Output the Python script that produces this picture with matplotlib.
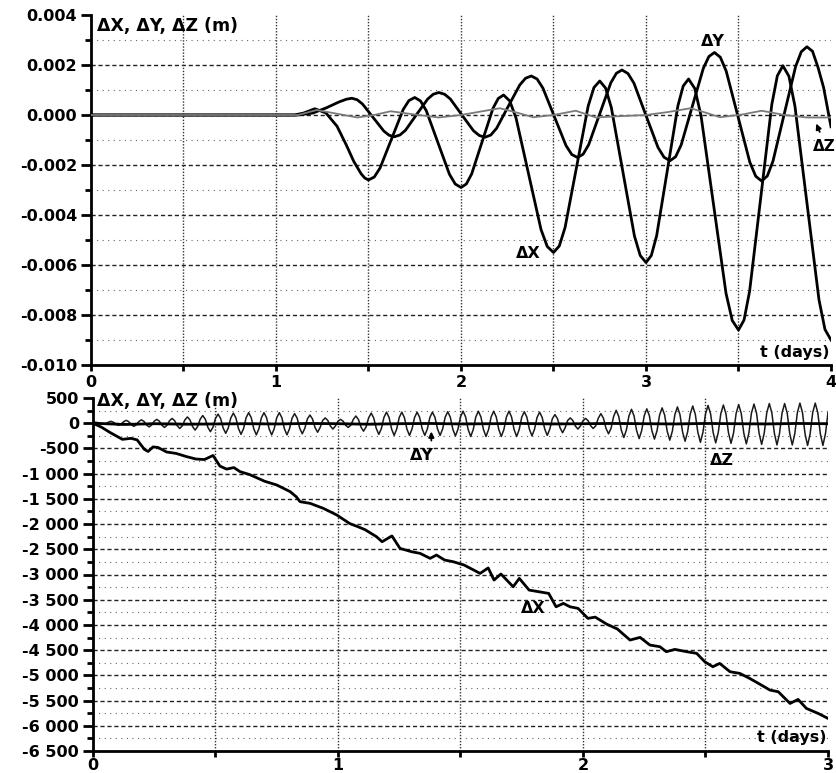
import numpy as np
import matplotlib
matplotlib.use("Agg")
import matplotlib.pyplot as plt
from matplotlib.ticker import FixedLocator

plt.rcParams['font.family'] = ['DejaVu Sans']
plt.rcParams['font.weight'] = 'bold'
plt.rcParams['axes.unicode_minus'] = False

# ---------------- top panel data (values in mm, converted to m) ----------------
t_dx_top = [0.0, 1.0, 1.1, 1.15, 1.21, 1.27, 1.33, 1.38, 1.42, 1.46, 1.48, 1.5,
            1.53125, 1.5625, 1.625, 1.6875, 1.71875, 1.75,
            1.78125, 1.8125, 1.875, 1.9375, 1.96875, 2.0,
            2.02875, 2.0575, 2.115, 2.1725, 2.20125, 2.23,
            2.26375, 2.2975, 2.365, 2.4325, 2.46625, 2.5,
            2.53125, 2.5625, 2.625, 2.6875, 2.71875, 2.75,
            2.78125, 2.8125, 2.875, 2.9375, 2.96875, 3.0,
            3.02875, 3.0575, 3.115, 3.1725, 3.20125, 3.23,
            3.26375, 3.2975, 3.365, 3.4325, 3.46625, 3.5,
            3.53, 3.56, 3.62, 3.68, 3.71, 3.74,
            3.7725, 3.805, 3.87, 3.935, 3.9675, 4.0]
dx_top_mm = [0, 0, 0, 0.08, 0.25, 0.08, -0.45, -1.2, -1.85, -2.35, -2.52, -2.6,
             -2.48, -2.12, -0.95, 0.22, 0.58, 0.7,
             0.56, 0.17, -1.1, -2.37, -2.76, -2.9,
             -2.76, -2.36, -1.05, 0.26, 0.66, 0.8,
             0.56, -0.12, -2.35, -4.58, -5.26, -5.5,
             -5.24, -4.5, -2.07, 0.36, 1.1, 1.36,
             1.08, 0.3, -2.27, -4.84, -5.62, -5.9,
             -5.62, -4.83, -2.23, 0.37, 1.16, 1.44,
             1.06, -0.03, -3.58, -7.13, -8.22, -8.6,
             -8.2, -7.05, -3.32, 0.42, 1.57, 1.97,
             1.55, 0.36, -3.52, -7.39, -8.58, -9.0]

t_dy_top = [0.0, 1.0, 1.12, 1.2, 1.27, 1.34, 1.38, 1.41,
            1.43875, 1.4675, 1.525, 1.5825, 1.61125, 1.64,
            1.67, 1.70, 1.76, 1.82, 1.85, 1.88,
            1.91125, 1.9425, 2.005, 2.0675, 2.09875, 2.13,
            2.16125, 2.1925, 2.255, 2.3175, 2.34875, 2.38,
            2.41125, 2.4425, 2.505, 2.5675, 2.59875, 2.63,
            2.66, 2.69, 2.75, 2.81, 2.84, 2.87,
            2.9025, 2.935, 3.0, 3.065, 3.0975, 3.13,
            3.16, 3.19, 3.25, 3.31, 3.34, 3.37,
            3.40188, 3.43375, 3.4975, 3.56125, 3.59313, 3.625,
            3.65563, 3.68625, 3.7475, 3.80875, 3.83938, 3.87,
            3.90, 3.93, 3.96, 4.0]
dy_top_mm = [0, 0, 0, 0.08, 0.28, 0.52, 0.63, 0.67,
             0.61, 0.44, -0.1, -0.64, -0.81, -0.87,
             -0.8, -0.61, 0.02, 0.64, 0.83, 0.9,
             0.83, 0.64, 0.0, -0.63, -0.82, -0.89,
             -0.8, -0.53, 0.34, 1.2, 1.47, 1.56,
             1.44, 1.08, -0.07, -1.22, -1.58, -1.7,
             -1.57, -1.19, 0.05, 1.29, 1.67, 1.8,
             1.66, 1.27, -0.02, -1.3, -1.69, -1.83,
             -1.67, -1.2, 0.34, 1.87, 2.34, 2.5,
             2.31, 1.75, -0.07, -1.89, -2.45, -2.64,
             -2.44, -1.85, 0.05, 1.94, 2.53, 2.73,
             2.55, 1.9, 1.1, -0.47]

t_dz_top = [0.0, 1.0, 1.12, 1.22, 1.33, 1.44, 1.53, 1.62, 1.75, 1.88,
            2.0, 2.1, 2.21, 2.3, 2.39, 2.5, 2.62, 2.73, 2.85, 3.0,
            3.12, 3.24, 3.32, 3.40, 3.52, 3.625, 3.75, 3.87, 4.0]
dz_top_mm = [0, 0, 0, 0.2, 0.05, -0.1, 0.0, 0.15, 0.02, -0.1,
             0.0, 0.13, 0.27, 0.1, -0.09, 0.0, 0.17, -0.1, -0.05, 0.0,
             0.12, 0.27, 0.1, -0.09, 0.02, 0.17, 0.0, -0.1, -0.1]

top_yticks = [-0.010, -0.008, -0.006, -0.004, -0.002, 0.000, 0.002, 0.004]
top_xticks = [0, 1, 2, 3, 4]

# ---------------- bottom panel data (m) ----------------
t_dx_bot = [0.0, 0.035, 0.07, 0.12, 0.155, 0.18, 0.21, 0.225, 0.245, 0.265,
            0.3, 0.34, 0.38, 0.42, 0.455, 0.49, 0.518, 0.545, 0.575, 0.6,
            0.64, 0.7, 0.75, 0.805, 0.83, 0.845, 0.886, 0.94, 0.995, 1.048,
            1.08, 1.11, 1.157, 1.18, 1.22, 1.253, 1.3, 1.335, 1.376, 1.402,
            1.435, 1.47, 1.515, 1.58, 1.613, 1.637, 1.665, 1.715, 1.74, 1.78,
            1.86, 1.89, 1.92, 1.947, 1.98, 2.02, 2.05, 2.097, 2.14, 2.192,
            2.233, 2.273, 2.314, 2.34, 2.375, 2.423, 2.464, 2.497, 2.53, 2.558,
            2.6, 2.64, 2.68, 2.72, 2.763, 2.797, 2.845, 2.878, 2.912, 2.96, 3.0]
dx_bot = [0, -80, -185, -320, -300, -330, -520, -560, -470, -480,
          -570, -600, -660, -710, -720, -640, -850, -910, -880, -960,
          -1020, -1150, -1225, -1358, -1460, -1556, -1589, -1688, -1820, -1990,
          -2050, -2110, -2250, -2350, -2235, -2482, -2548, -2581, -2680, -2614,
          -2713, -2746, -2813, -2978, -2870, -3110, -2990, -3243, -3077, -3309,
          -3375, -3640, -3573, -3640, -3672, -3870, -3845, -3985, -4080, -4300,
          -4247, -4399, -4432, -4531, -4485, -4531, -4564, -4730, -4829, -4763,
          -4928, -4961, -5060, -5170, -5292, -5325, -5557, -5477, -5656, -5755, -5854]

t_dy_bot = np.linspace(0, 3, 25)
dy_bot = [0, -25, -10, -20, -15, -10, -15, -5, -10, -20, -10, -5, -15,
          -10, -5, -15, -10, -5, -10, -15, -5, -10, -15, -5, -10]

t_dz_bot = np.linspace(0, 3, 289)   # 15-minute samples
dz_bot = [0, 19, 10, -10, -21, -10,
          20, 38, 20, -20, -42, -20,
          30, 57, 30, -30, -63, -30,
          35, 67, 35, -35, -74, -35,
          40, 76, 40, -40, -84, -40,
          50, 95, 50, -50, -105, -50,
          65, 124, 65, -65, -137, -65,
          80, 152, 80, -80, -168, -80,
          95, 181, 95, -95, -200, -95,
          105, 200, 105, -105, -221, -105,
          110, 209, 110, -110, -231, -110,
          110, 209, 110, -110, -231, -110,
          110, 209, 110, -110, -231, -110,
          100, 190, 100, -100, -210, -100,
          85, 162, 85, -85, -179, -85,
          55, 105, 55, -55, -116, -55,
          40, 76, 40, -40, -84, -40,
          75, 143, 75, -75, -158, -75,
          105, 200, 105, -105, -221, -105,
          115, 219, 115, -115, -242, -115,
          115, 219, 115, -115, -242, -115,
          115, 219, 115, -115, -242, -115,
          115, 219, 115, -115, -242, -115,
          120, 228, 120, -120, -252, -120,
          125, 238, 125, -125, -263, -125,
          125, 238, 125, -125, -263, -125,
          125, 238, 125, -125, -263, -125,
          125, 238, 125, -125, -263, -125,
          120, 228, 120, -120, -252, -120,
          115, 219, 115, -115, -242, -115,
          90, 171, 90, -90, -189, -90,
          55, 105, 55, -55, -116, -55,
          50, 95, 50, -50, -105, -50,
          100, 190, 100, -100, -210, -100,
          135, 257, 135, -135, -284, -135,
          145, 276, 145, -145, -305, -145,
          150, 285, 150, -150, -315, -150,
          160, 304, 160, -160, -336, -160,
          170, 323, 170, -170, -357, -170,
          180, 342, 180, -180, -378, -180,
          185, 352, 185, -185, -389, -185,
          190, 361, 190, -190, -399, -190,
          195, 371, 195, -195, -410, -195,
          200, 380, 200, -200, -420, -200,
          205, 390, 205, -205, -431, -205,
          205, 390, 205, -205, -431, -205,
          210, 399, 210, -210, -441, -210,
          210, 399, 210, -210, -441, -210,
          210]

bot_yticks = list(range(-6500, 501, 500))
bot_xticks = [0, 1, 2, 3]

# ---------------- figure ----------------
W, H = 837, 773
fig = plt.figure(figsize=(W / 100, H / 100), dpi=100)
ax1 = fig.add_axes([91 / W, (H - 365) / H, 740 / W, 350 / H])
ax2 = fig.add_axes([93 / W, (H - 751) / H, 735 / W, 353 / H])


def style_axes(ax, xmax, ymin, ymax, ymajor, yminor_step, xticks, xpad):
    ax.set_xlim(0, xmax)
    ax.set_ylim(ymin, ymax)
    for s in ('top', 'right'):
        ax.spines[s].set_visible(False)
    for s in ('left', 'bottom'):
        ax.spines[s].set_linewidth(2.0)
    ax.set_xticks(xticks)
    ax.set_xticklabels([str(v) for v in xticks])
    ax.xaxis.set_minor_locator(FixedLocator([v + 0.5 for v in xticks[:-1]]))
    ax.set_yticks(ymajor)
    yminor = [v + yminor_step for v in ymajor[:-1]]
    ax.yaxis.set_minor_locator(FixedLocator(yminor))
    ax.tick_params(axis='y', which='major', direction='out', length=7, width=2,
                   labelsize=11.5, pad=3)
    ax.tick_params(axis='y', which='minor', direction='out', length=4, width=2)
    ax.tick_params(axis='x', which='both', direction='out', length=4, width=2,
                   labelsize=11.5, pad=xpad)
    # grid lines (interior only)
    for v in ymajor[1:-1]:
        ax.axhline(v, color='#222222', lw=1.0, ls=(0, (3, 2)), zorder=0.5)
    for v in yminor:
        ax.axhline(v, color='#666666', lw=0.8, ls=(0, (1, 4)), zorder=0.5)
    xs = sorted(list(xticks[1:-1]) + [v + 0.5 for v in xticks[:-1]])
    for v in xs:
        ax.axvline(v, color='#333333', lw=1.0, ls=(0, (1, 1.2)), zorder=0.5)


# top panel
style_axes(ax1, 4, -0.010, 0.004, top_yticks, 0.001, top_xticks, 3)
ax1.set_yticklabels([f"{v:.3f}" if v != 0 else "0.000" for v in top_yticks])
ax1.plot(t_dx_top, np.array(dx_top_mm) * 1e-3, color='black', lw=2.0, zorder=3)
ax1.plot(t_dy_top, np.array(dy_top_mm) * 1e-3, color='black', lw=2.0, zorder=3)
ax1.plot(t_dz_top, np.array(dz_top_mm) * 1e-3, color='#7a7a7a', lw=1.3, zorder=4)

ax1.text(0.008, 0.969, "ΔX, ΔY, ΔZ (m)", transform=ax1.transAxes,
         fontsize=12.5, ha='left', va='center')
ax1.text(0.9986, 0.037, "t (days)", transform=ax1.transAxes,
         fontsize=11.5, ha='right', va='center')
ax1.text(3.362, 0.00296, "ΔY", fontsize=11.5, ha='center', va='center')
ax1.text(2.362, -0.00552, "ΔX", fontsize=11.5, ha='center', va='center')
ax1.text(3.962, -0.00125, "ΔZ", fontsize=11, ha='center', va='center', clip_on=False)
ax1.annotate('', xy=(3.914, -0.00024), xytext=(3.945, -0.00078),
             arrowprops=dict(arrowstyle='-|>', color='black', lw=1.3,
                             mutation_scale=8), annotation_clip=False)

# bottom panel
style_axes(ax2, 3, -6500, 500, bot_yticks, 250, bot_xticks, 1)
ax2.set_yticklabels([f"{v:,}".replace(",", " ") for v in bot_yticks])
ax2.plot(t_dz_bot, dz_bot, color='#1a1a1a', lw=1.1, zorder=3)
ax2.plot(t_dy_bot, dy_bot, color='black', lw=2.0, zorder=4)
ax2.plot(t_dx_bot, dx_bot, color='black', lw=2.0, zorder=4)

ax2.text(0.005, 0.9915, "ΔX, ΔY, ΔZ (m)", transform=ax2.transAxes,
         fontsize=12.5, ha='left', va='center')
ax2.text(0.9986, 0.037, "t (days)", transform=ax2.transAxes,
         fontsize=11.5, ha='right', va='center')
ax2.text(1.796, -3665, "ΔX", fontsize=11.5, ha='center', va='center')
ax2.text(1.343, -640, "ΔY", fontsize=11.5, ha='center', va='center')
ax2.text(2.567, -730, "ΔZ", fontsize=11.5, ha='center', va='center')
ax2.annotate('', xy=(1.381, -110), xytext=(1.381, -400),
             arrowprops=dict(arrowstyle='-|>', color='black', lw=1.3,
                             mutation_scale=8))

fig.savefig("out.png", dpi=100)
